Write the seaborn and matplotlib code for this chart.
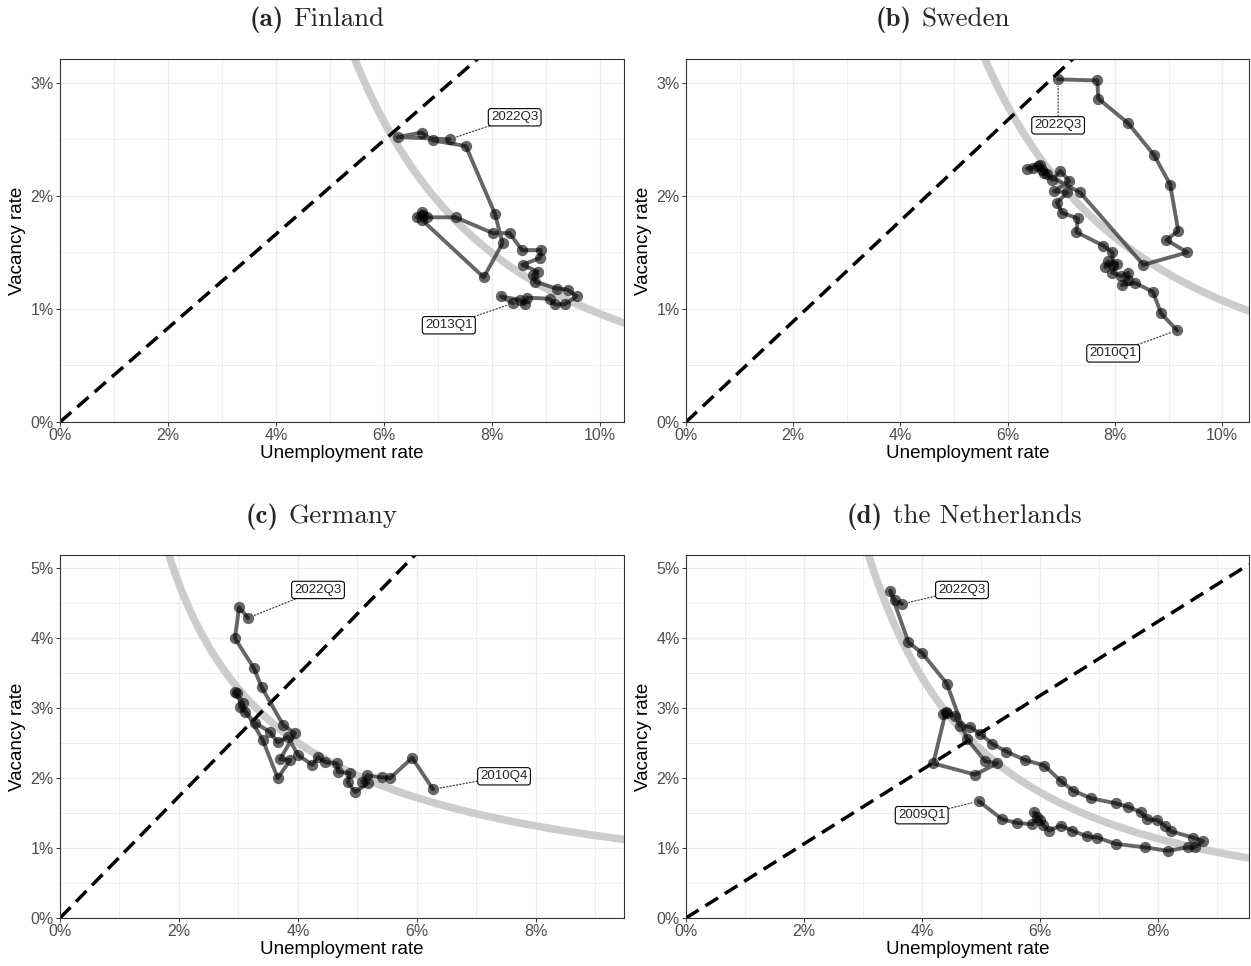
import numpy as np
import pandas as pd
import matplotlib
matplotlib.use("Agg")
import matplotlib.pyplot as plt
from matplotlib.ticker import MultipleLocator, FuncFormatter
from matplotlib.offsetbox import TextArea, HPacker, AnchoredOffsetbox
import seaborn as sns

# unemployment rate / vacancy rate (%), in time order
fin_u = [8.39, 8.17, 8.52, 8.61, 8.65, 9.07, 9.17, 9.35, 9.57, 9.41, 9.20, 8.81, 8.76, 8.85, 8.57, 8.89, 8.91,
         8.56, 8.33, 8.02, 7.33, 6.80, 6.70, 6.61, 6.72, 6.70, 7.85, 8.20, 8.06, 7.52, 6.91, 6.70, 6.26, 7.22]
fin_v = [1.05, 1.11, 1.08, 1.04, 1.10, 1.09, 1.04, 1.04, 1.11, 1.17, 1.18, 1.24, 1.30, 1.33, 1.39, 1.45, 1.52,
         1.52, 1.67, 1.67, 1.81, 1.81, 1.86, 1.81, 1.83, 1.79, 1.28, 1.58, 1.84, 2.44, 2.49, 2.56, 2.52, 2.50]

swe_u = [9.16, 8.86, 8.71, 8.38, 8.13, 8.25, 8.25, 8.12, 7.95, 8.04, 7.82, 7.87, 7.97, 7.95, 7.78, 7.28, 7.31,
         7.01, 6.92, 7.11, 6.87, 7.15, 6.98, 6.83, 6.74, 6.64, 6.60, 6.47, 6.36, 6.57, 6.68, 7.35, 8.53, 9.35,
         8.96, 9.18, 9.03, 8.73, 8.25, 7.69, 7.67, 6.94]
swe_v = [0.81, 0.96, 1.15, 1.23, 1.21, 1.26, 1.32, 1.29, 1.32, 1.40, 1.37, 1.42, 1.39, 1.50, 1.56, 1.68, 1.80,
         1.85, 1.94, 2.03, 2.04, 2.13, 2.22, 2.14, 2.19, 2.23, 2.27, 2.25, 2.24, 2.26, 2.20, 2.03, 1.39, 1.50,
         1.61, 1.69, 2.10, 2.36, 2.64, 2.86, 3.02, 3.03]

ger_u = [6.27, 5.92, 5.55, 5.41, 5.16, 5.08, 5.18, 4.96, 4.84, 4.87, 4.67, 4.66, 4.45, 4.34, 4.24, 4.00, 3.83,
         3.66, 3.53, 3.28, 3.11, 3.03, 3.08, 2.97, 2.94, 3.41, 3.66, 3.87, 3.70, 3.95, 3.75, 3.39, 3.26, 2.94,
         3.01, 3.16]
ger_v = [1.84, 2.29, 2.00, 2.01, 2.04, 1.94, 1.93, 1.80, 1.94, 2.07, 2.09, 2.21, 2.23, 2.30, 2.19, 2.33, 2.59,
         2.51, 2.66, 2.79, 2.94, 3.01, 3.07, 3.21, 3.23, 2.54, 2.00, 2.26, 2.27, 2.64, 2.76, 3.30, 3.57, 4.00,
         4.44, 4.29]

ned_u = [4.96, 5.36, 5.61, 5.87, 5.95, 5.90, 6.00, 6.05, 6.15, 6.35, 6.54, 6.79, 6.97, 7.28, 7.78, 8.16, 8.50,
         8.62, 8.76, 8.59, 8.22, 8.11, 7.98, 7.82, 7.71, 7.49, 7.28, 6.87, 6.56, 6.35, 6.07, 5.74, 5.43, 5.19,
         4.99, 4.82, 4.64, 4.56, 4.42, 4.36, 4.40, 4.19, 4.90, 5.27, 5.07, 4.76, 4.42, 4.00, 3.77, 3.46, 3.54, 3.66]
ned_v = [1.67, 1.41, 1.36, 1.34, 1.44, 1.51, 1.40, 1.33, 1.25, 1.32, 1.25, 1.17, 1.15, 1.06, 1.01, 0.96, 1.01,
         1.01, 1.10, 1.15, 1.24, 1.32, 1.40, 1.41, 1.51, 1.59, 1.64, 1.71, 1.82, 1.96, 2.18, 2.26, 2.38, 2.49,
         2.63, 2.73, 2.75, 2.89, 2.93, 2.92, 2.94, 2.21, 2.05, 2.21, 2.24, 2.56, 3.35, 3.79, 3.94, 4.68, 4.54, 4.49]

first_q = ["2013Q1", "2010Q1", "2010Q4", "2009Q1"]
last_q = ["2022Q3", "2022Q3", "2022Q3", "2022Q3"]

# fitted curve v = A * u^b and slope of the dashed v = k*u line
curve_A = [95.7, 79.7, 9.1, 31.6]
curve_b = [-2.0, -1.87, -0.93, -1.6]
diag_k = [0.415, 0.445, 0.87, 0.53]

tags = ["(a)", "(b)", "(c)", "(d)"]
countries = ["Finland", "Sweden", "Germany", "the Netherlands"]

sns.set_theme(style="white")
plt.rcParams["font.family"] = ["Liberation Sans", "DejaVu Sans"]

W, H = 1251, 966
fig = plt.figure(figsize=(W / 100, H / 100), dpi=100)

# panel boxes in pixels: left, top, right, bottom
boxes = [(60, 59, 624, 422), (686, 59, 1249, 422), (60, 555, 624, 918), (686, 555, 1249, 918)]
xmax = [10.45, 10.5, 9.48, 9.54]
ymax = [3.21, 3.21, 5.19, 5.19]
title_xy = [(317, 20), (943, 20), (322, 517), (964, 517)]
# label offsets in pixels (first, last)
off_first = [(-64, -22), (-64, -23), (71, 13), (-57, -14)]
off_last = [(65, 22), (0, -46), (70, 28), (60, 14)]

series = [(fin_u, fin_v), (swe_u, swe_v), (ger_u, ger_v), (ned_u, ned_v)]
pct = FuncFormatter(lambda x, p: f"{x:.0f}%")

for i, (u, v) in enumerate(series):
    l, t, r, b = boxes[i]
    ax = fig.add_axes([l / W, 1 - b / H, (r - l) / W, (b - t) / H])
    xm, ym = xmax[i], ymax[i]

    uu = np.linspace(0.2, xm, 400)
    ax.plot(uu, curve_A[i] * uu ** curve_b[i], color="#cccccc", linewidth=5.5, zorder=1)
    ax.plot([0, xm], [0, diag_k[i] * xm], color="black", linewidth=2.5, dashes=(4.3, 2.3), zorder=2)

    df = pd.DataFrame({"u": u, "v": v})
    sns.lineplot(data=df, x="u", y="v", sort=False, estimator=None, color="#333333", alpha=0.75,
                 linewidth=2.8, ax=ax, zorder=3)
    sns.scatterplot(data=df, x="u", y="v", color="black", alpha=0.6, s=66, linewidth=0, ax=ax, zorder=4)

    for idx, txt, off in [(0, first_q[i], off_first[i]), (-1, last_q[i], off_last[i])]:
        ax.annotate(txt, xy=(u[idx], v[idx]), xytext=off, textcoords="offset pixels",
                    ha="center", va="center", fontsize=9.6, zorder=6,
                    bbox=dict(boxstyle="round,pad=0.2", fc="white", ec="black", lw=0.8),
                    arrowprops=dict(arrowstyle="-", linestyle=":", color="#444444", lw=0.9,
                                    shrinkA=0, shrinkB=5))

    ax.set_xlim(0, xm)
    ax.set_ylim(0, ym)
    ax.xaxis.set_major_locator(MultipleLocator(2))
    ax.xaxis.set_minor_locator(MultipleLocator(1))
    ax.yaxis.set_major_locator(MultipleLocator(1))
    ax.yaxis.set_minor_locator(MultipleLocator(0.5))
    ax.xaxis.set_major_formatter(pct)
    ax.yaxis.set_major_formatter(pct)
    ax.grid(which="major", color="#ebebeb", linewidth=0.9)
    ax.grid(which="minor", color="#ebebeb", linewidth=0.6)
    ax.set_axisbelow(True)
    ax.tick_params(which="major", labelsize=11.5, labelcolor="#4d4d4d", length=3, width=0.7,
                   color="#333333", pad=1.5, bottom=True, left=True)
    ax.tick_params(which="minor", length=0)
    for s in ax.spines.values():
        s.set_color("#333333")
        s.set_linewidth(0.8)
    ax.set_xlabel("Unemployment rate", fontsize=13.5, labelpad=1, color="black")
    ax.set_ylabel("Vacancy rate", fontsize=13.5, labelpad=3, color="black")

    # caption: bold tag + roman country name, Computer Modern
    tag = TextArea(tags[i], textprops=dict(family="cmb10", size=19.5))
    name = TextArea(countries[i], textprops=dict(family="cmr10", size=19.5))
    pack = HPacker(children=[tag, name], align="baseline", pad=0, sep=7)
    tx, ty = title_xy[i]
    cap = AnchoredOffsetbox(loc="center", child=pack, pad=0, borderpad=0, frameon=False,
                            bbox_to_anchor=(tx / W, 1 - ty / H), bbox_transform=fig.transFigure)
    fig.add_artist(cap)

fig.savefig("out.png", dpi=100)
